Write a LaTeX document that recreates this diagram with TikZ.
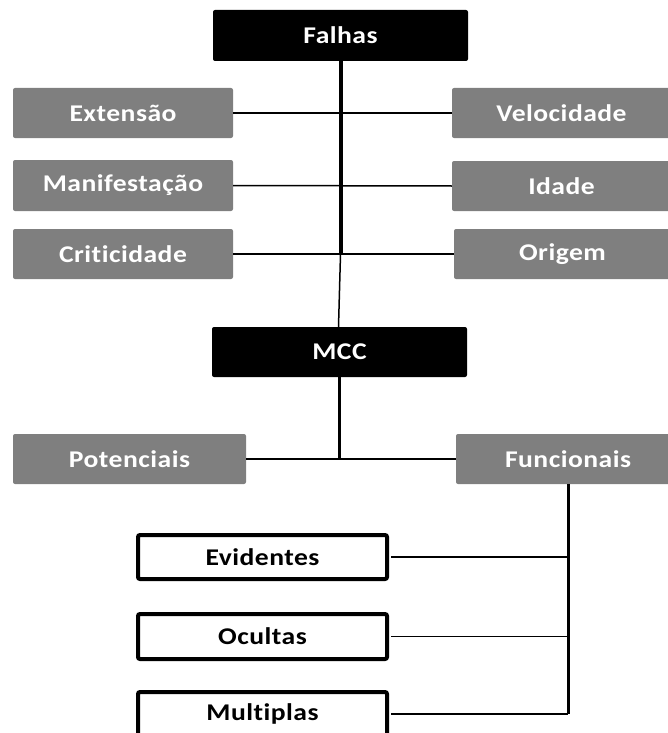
\documentclass[tikz,border=0pt]{standalone}
\usepackage{fontspec}
\setmainfont{Carlito}[FakeStretch=1.15,LetterSpace=2,Ligatures=NoCommon]
\definecolor{boxgray}{HTML}{7F7F7F}
\tikzset{
  base/.style={rectangle, rounded corners=2pt, inner sep=0pt, font=\fontsize{24}{28}\selectfont\bfseries},
  darkbox/.style={base, fill=black, text=white, minimum width=255pt, minimum height=51pt},
  graybox/.style={base, fill=boxgray, text=white, minimum height=50pt},
  outlinebox/.style={base, draw=black, line width=4pt, fill=white, text=black, minimum width=249pt, minimum height=44pt},
  link/.style={line width=1.5pt},
  trunk/.style={line width=4pt},
}
\begin{document}
\begin{tikzpicture}[x=1pt, y=-1pt]
  \useasboundingbox (0,0) rectangle (668,733);
  \clip (0,0) rectangle (668,733);

  % top level
  \node[darkbox] (falhas) at (340.5,35.5) {Falhas};

  % classification of failures, left column
  \node[graybox, minimum width=220pt] (ext) at (123,113) {Extensão};
  \node[graybox, minimum width=220pt, minimum height=51pt] (man) at (123,185.5) {Manifestação};
  \node[graybox, minimum width=220pt] (cri) at (123,254) {Criticidade};

  % classification of failures, right column
  \node[graybox, minimum width=219pt] (vel) at (561.5,113) {Velocidade};
  \node[graybox, minimum width=219pt] (ida) at (561.5,186) {Idade};
  \node[graybox, minimum width=217pt] (ori) at (562.5,254) {Origem};

  % RCM level
  \node[darkbox, minimum height=50pt] (mcc) at (339.5,352) {MCC};
  \node[graybox, minimum width=233pt] (pot) at (129.5,459) {Potenciais};
  \node[graybox, minimum width=224pt] (fun) at (568,459) {Funcionais};

  % functional failures
  \node[outlinebox] (evi) at (262.5,557) {Evidentes};
  \node[outlinebox, minimum height=45pt] (ocu) at (262.5,636.5) {Ocultas};
  \node[outlinebox] (mul) at (262.5,714) {Multiplas};

  % main trunk
  \coordinate (tk) at (falhas.south |- cri.east);
  \draw[trunk] (falhas.south) -- (tk);
  \draw[link] (tk) -- ([xshift=-1pt]mcc.north);

  \draw[link] (ext.east) -- (vel.west);
  \draw[link] (man.east) -- (ida.west);
  \draw[link] (cri.east) -- (ori.west);

  % MCC branches
  \coordinate (mj) at (mcc.south |- pot.east);
  \draw[line width=2.2pt] (mcc.south) -- (mj);
  \draw[link] (pot.east) -- (fun.west);

  % functional branches
  \coordinate (fj) at (fun.south |- mul.east);
  \draw[line width=3pt] (fun.south) -- (fj);
  \draw[link] ([xshift=2pt]evi.east) -- (fun.south |- evi.east);
  \draw[link] ([xshift=2pt]ocu.east) -- (fun.south |- ocu.east);
  \draw[link] ([xshift=2pt]mul.east) -- (fj);
\end{tikzpicture}
\end{document}
